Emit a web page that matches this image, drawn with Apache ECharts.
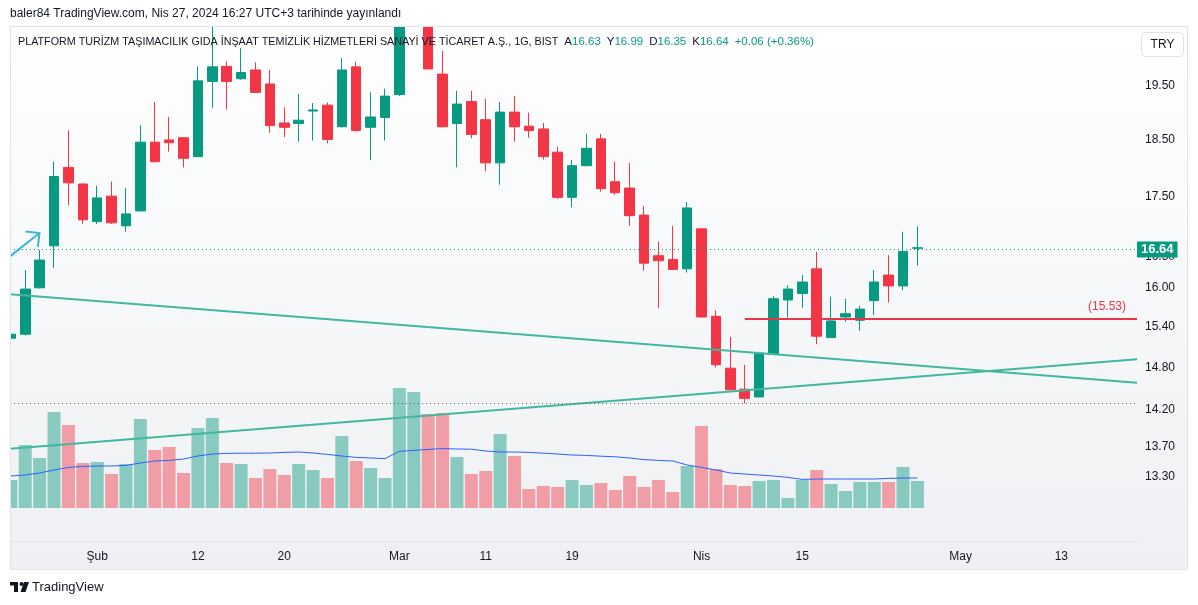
<!DOCTYPE html>
<html><head><meta charset="utf-8">
<script src="https://cdn.jsdelivr.net/npm/echarts@6/dist/echarts.min.js"></script>
<style>html,body{margin:0;padding:0;background:#fff}#c{width:1198px;height:605px}</style>
</head><body><div id="c"></div>
<script>
// ---- data ----
const dates = ['2024-01-24','2024-01-25','2024-01-26','2024-01-29','2024-01-30','2024-01-31',
'2024-02-01','2024-02-02','2024-02-05','2024-02-06','2024-02-07','2024-02-08','2024-02-09',
'2024-02-12','2024-02-13','2024-02-14','2024-02-15','2024-02-16','2024-02-19','2024-02-20',
'2024-02-21','2024-02-22','2024-02-23','2024-02-26','2024-02-27','2024-02-28','2024-02-29',
'2024-03-01','2024-03-04','2024-03-05','2024-03-06','2024-03-07','2024-03-08','2024-03-11',
'2024-03-12','2024-03-13','2024-03-14','2024-03-15','2024-03-18','2024-03-19','2024-03-20',
'2024-03-21','2024-03-22','2024-03-25','2024-03-26','2024-03-27','2024-03-28','2024-03-29',
'2024-04-01','2024-04-02','2024-04-03','2024-04-04','2024-04-05','2024-04-08','2024-04-09',
'2024-04-15','2024-04-16','2024-04-17','2024-04-18','2024-04-19','2024-04-22','2024-04-24',
'2024-04-25','2024-04-26',
'2024-04-29','2024-04-30','2024-05-02','2024-05-03','2024-05-06','2024-05-07','2024-05-08',
'2024-05-09','2024-05-10','2024-05-13','2024-05-14','2024-05-15','2024-05-16','2024-05-17','2024-05-20'];

const openP  = [15.23,15.29,16.00,16.67,18.00,17.71,17.07,17.50,17.00,17.25,18.45,18.49,18.53,18.19,19.58,19.87,19.63,19.80,19.53,18.80,18.79,19.02,19.13,18.73,19.86,18.72,18.90,19.33,21.40,21.40,19.72,18.79,19.20,18.86,18.08,19.00,18.74,18.69,18.27,17.48,18.03,18.51,17.75,17.64,17.18,16.51,16.45,16.30,16.95,15.56,14.79,14.49,14.38,14.99,15.81,15.91,16.30,15.24,15.55,15.50,15.80,16.20,16.03,16.63];
const closeP = [15.29,15.98,16.44,17.84,17.73,17.10,17.47,17.05,17.20,18.45,18.10,18.44,18.16,19.59,19.86,19.58,19.75,19.37,18.75,18.72,18.85,19.04,18.50,19.80,18.66,18.91,19.30,21.22,21.60,19.82,18.73,19.15,18.59,18.08,19.00,18.73,18.66,18.19,17.48,18.03,18.34,17.63,17.56,17.17,16.39,16.43,16.29,17.30,15.55,14.84,14.48,14.36,15.01,15.83,15.98,16.09,15.26,15.49,15.60,15.67,16.09,16.03,16.58,16.64];
const lowP   = [15.16,15.27,15.99,16.32,17.35,17.03,17.03,17.03,16.90,17.24,18.09,18.28,18.00,18.18,19.08,19.05,19.61,19.36,18.62,18.54,18.46,18.48,18.43,18.72,18.64,18.13,18.48,19.30,20.80,19.82,18.72,18.00,18.52,17.93,17.70,18.46,18.53,18.14,17.45,17.31,18.02,17.58,17.52,17.00,16.27,15.69,16.28,16.24,15.54,14.80,14.48,14.29,14.38,14.99,15.54,15.69,15.14,15.24,15.48,15.34,15.58,15.77,15.96,16.35];
const highP  = [15.35,16.28,16.60,18.10,18.66,17.72,17.68,17.75,17.64,18.76,19.19,18.91,18.54,19.87,20.80,19.97,20.23,19.95,19.80,19.09,19.34,19.17,19.18,20.03,19.96,19.37,19.44,21.22,22.40,21.80,20.17,19.40,19.40,19.25,19.19,19.30,18.99,18.80,18.37,18.13,18.60,18.60,18.10,18.08,17.33,16.74,17.00,17.40,16.96,15.65,15.25,14.84,15.03,15.87,16.04,16.20,16.57,15.86,15.83,15.72,16.28,16.52,16.90,16.99];
const volume = [1.40,3.15,2.50,4.80,4.15,2.25,2.30,1.70,2.20,4.45,2.90,3.05,1.75,4.00,4.50,2.25,2.20,1.50,1.95,1.65,2.20,1.90,1.50,3.60,2.35,2.00,1.50,6.00,5.80,4.70,4.75,2.55,1.70,1.85,3.70,2.60,0.95,1.10,1.05,1.40,1.15,1.25,0.90,1.60,1.05,1.40,0.80,2.10,4.10,1.95,1.15,1.10,1.35,1.40,0.50,1.40,1.90,1.20,0.85,1.30,1.30,1.30,2.05,1.35];
const volumeMA = [1.60,1.65,1.75,1.90,2.03,2.08,2.10,2.10,2.13,2.25,2.35,2.38,2.45,2.60,2.70,2.73,2.74,2.74,2.75,2.78,2.80,2.75,2.68,2.60,2.53,2.50,2.47,2.83,2.88,2.93,2.97,2.95,2.94,2.85,2.80,2.80,2.78,2.74,2.70,2.65,2.63,2.59,2.56,2.50,2.42,2.38,2.35,2.15,2.03,1.90,1.75,1.70,1.65,1.60,1.53,1.43,1.45,1.45,1.45,1.45,1.45,1.48,1.50,1.50];

const timeTicks = [['2024-02-01','Şub'],['2024-02-12','12'],['2024-02-20','20'],['2024-03-01','Mar'],
  ['2024-03-11','11'],['2024-03-19','19'],['2024-04-01','Nis'],['2024-04-15','15'],['2024-05-02','May'],['2024-05-13','13']];
const priceTicks = [19.50,18.50,17.50,16.50,16.00,15.40,14.80,14.20,13.70,13.30];

// view range (index units / price units)
const xMin = -0.06, xMax = 78.26;
const yMinPrice = 12.49, yMaxPrice = 20.67;
const volMax = 24.1;

// drawings (index, price)
const trendDown = [[xMin, 15.90], [xMax, 14.58]];
const trendUp   = [[xMin, 13.67], [xMax, 14.92]];
const arrowLine = [[xMin, 16.50], [1.99, 16.88]];
const lastPrice = 16.64;
const levelLine = { from: 51, price: 15.53, label: '(15.53)' };
const lowLine = 14.29;
const header = 'baler84 TradingView.com, Nis 27, 2024 16:27 UTC+3 tarihinde yayınlandı';
const title = 'PLATFORM TURİZM TAŞIMACILIK GIDA İNŞAAT TEMİZLİK HİZMETLERİ SANAYİ VE TİCARET A.Ş., 1G, BIST';
const ohlc = [['A','16.63'],['Y','16.99'],['D','16.35'],['K','16.64']];
const change = '+0.06 (+0.36%)';

// ---- build ----
const UP = '#089981', DOWN = '#f23645';
const FONT = 'Liberation Sans, Arial, sans-serif';
const L = Math.log;
const candleData = openP.map((o, i) => [i, L(o), L(closeP[i]), L(lowP[i]), L(highP[i])]);
const volData = volume.map((v, i) => ({
  value: [i, v],
  itemStyle: { color: closeP[i] >= openP[i] ? 'rgba(8,153,129,0.45)' : 'rgba(242,54,69,0.45)' }
}));
const maData = volumeMA.map((v, i) => [i, v]);
const tickPos = timeTicks.map(t => dates.indexOf(t[0]));
const tickMap = {}; timeTicks.forEach(t => { tickMap[dates.indexOf(t[0])] = t[1]; });
const toLn = arr => arr.map(p => [p[0], L(p[1])]);

let richTitle = '{t|' + title + '}  ';
ohlc.forEach(p => { richTitle += '{l|' + p[0] + '}{v|' + p[1] + '}  '; });
richTitle += '{v|' + change + '}';

const chart = echarts.init(document.getElementById('c'), null, { renderer: 'canvas' });
chart.setOption({
  animation: false,
  backgroundColor: '#ffffff',
  textStyle: { fontFamily: FONT },
  grid: [
    { left: 10, right: 61, top: 26, bottom: 64 },
    { left: 10, right: 61, top: 26, bottom: 97 }
  ],
  xAxis: [
    { type: 'value', gridIndex: 0, min: xMin, max: xMax,
      axisLine: { show: true, lineStyle: { color: '#e0e3eb' } },
      axisTick: { show: false }, splitLine: { show: false },
      axisLabel: { customValues: tickPos, formatter: v => tickMap[Math.round(v)] || '',
        color: '#131722', fontSize: 12, margin: 10, fontFamily: FONT } },
    { type: 'value', gridIndex: 1, min: xMin, max: xMax, show: false }
  ],
  yAxis: [
    { type: 'value', gridIndex: 0, position: 'right', min: L(yMinPrice), max: L(yMaxPrice),
      axisLine: { show: false }, axisTick: { show: false }, splitLine: { show: false },
      axisLabel: { customValues: priceTicks.map(L), formatter: v => Math.exp(v).toFixed(2),
        align: 'left', margin: 8, color: '#131722', fontSize: 12, fontFamily: FONT } },
    { type: 'value', gridIndex: 1, min: 0, max: volMax, show: false }
  ],
  series: [
    { type: 'bar', name: 'Hacim', xAxisIndex: 1, yAxisIndex: 1, data: volData, barWidth: 13, z: 1 },
    { type: 'line', name: 'Hacim MA', xAxisIndex: 1, yAxisIndex: 1, data: maData, symbol: 'none',
      lineStyle: { color: '#2962ff', width: 1 }, z: 1 },
    { type: 'candlestick', name: 'PLTUR', xAxisIndex: 0, yAxisIndex: 0, data: candleData,
      encode: { x: 0, y: [1, 2, 3, 4] }, barWidth: 10, z: 3, clip: true,
      itemStyle: { color: UP, color0: DOWN, borderColor: UP, borderColor0: DOWN, borderWidth: 1 },
      markLine: {
        symbol: 'none', silent: true, animation: false,
        data: [
          { yAxis: L(lastPrice), lineStyle: { color: UP, type: [1, 3], width: 1 },
            label: { show: true, position: 'end', formatter: lastPrice.toFixed(2), color: '#fff',
              backgroundColor: UP, padding: [2, 4, 1, 4], fontSize: 13, fontWeight: 'bold', distance: 0, fontFamily: FONT } },
          { yAxis: L(lowLine), lineStyle: { color: '#5d606b', type: [1, 3], width: 1 }, label: { show: false } },
          [ { coord: [levelLine.from, L(levelLine.price)], lineStyle: { color: '#e8364a', type: 'solid', width: 2 },
              label: { show: true, position: 'insideEndTop', formatter: levelLine.label, color: '#e8364a', fontSize: 12,
                padding: [0, 6, 1, 0], fontFamily: FONT } },
            { coord: [xMax, L(levelLine.price)] } ]
        ]
      } },
    { type: 'line', name: 'trend1', data: toLn(trendDown), symbol: 'none', z: 4,
      lineStyle: { color: '#43b89f', width: 2 } },
    { type: 'line', name: 'trend2', data: toLn(trendUp), symbol: 'none', z: 4,
      lineStyle: { color: '#43b89f', width: 2 } },
    { type: 'custom', name: 'arrow', data: [[arrowLine[0][0], L(arrowLine[0][1]), arrowLine[1][0], L(arrowLine[1][1])]],
      z: 4, clip: true,
      renderItem: (params, api) => {
        const a = api.coord([api.value(0), api.value(1)]);
        const b = api.coord([api.value(2), api.value(3)]);
        const ang = Math.atan2(a[1] - b[1], a[0] - b[0]);
        const len = 14, spread = Math.PI / 4;
        const b1 = [b[0] + len * Math.cos(ang + spread), b[1] + len * Math.sin(ang + spread)];
        const b2 = [b[0] + len * Math.cos(ang - spread), b[1] + len * Math.sin(ang - spread)];
        const st = { stroke: '#3fb4d8', lineWidth: 2, fill: null };
        return { type: 'group', children: [
          { type: 'line', shape: { x1: a[0], y1: a[1], x2: b[0], y2: b[1] }, style: st },
          { type: 'polyline', shape: { points: [b1, b, b2] }, style: st }
        ] };
      } }
  ],
  graphic: [
    { type: 'rect', z: -10, shape: { x: 10, y: 26, width: 1178, height: 544 },
      style: { fill: new echarts.graphic.LinearGradient(0, 0, 0, 1, [{ offset: 0, color: '#ffffff' }, { offset: 1, color: '#eef0f3' }]) } },
    // page margins outside the pane (hide marks that run past the pane edge)
    { type: 'rect', z: 40, shape: { x: 0, y: 0, width: 1198, height: 26 }, style: { fill: '#ffffff' } },
    { type: 'rect', z: 40, shape: { x: 0, y: 26, width: 10, height: 560 }, style: { fill: '#ffffff' } },
    { type: 'rect', z: 50, shape: { x: 10.5, y: 26.5, width: 1177, height: 543 }, style: { fill: null, stroke: '#e0e3eb', lineWidth: 1 } },
    { type: 'text', z: 50, x: 10, y: 14, style: { text: header, fill: '#131722', font: '12px ' + FONT, textVerticalAlign: 'middle' } },
    { type: 'text', z: 50, x: 18, y: 42, style: { text: richTitle, fill: '#131722', font: '10.75px ' + FONT, textVerticalAlign: 'middle',
        rich: { t: { fill: '#131722', font: '10.75px ' + FONT }, l: { fill: '#131722', font: '11.5px ' + FONT }, v: { fill: UP, font: '11.5px ' + FONT } } } },
    { type: 'rect', z: 50, shape: { x: 1141.5, y: 32.5, width: 42, height: 24, r: 4 }, style: { fill: '#ffffff', stroke: '#e0e3eb', lineWidth: 1 } },
    { type: 'text', z: 51, x: 1162.5, y: 44.5, style: { text: 'TRY', fill: '#131722', font: '12px ' + FONT, textAlign: 'center', textVerticalAlign: 'middle' } },
    { type: 'rect', z: 50, shape: { x: 10, y: 582, width: 8, height: 3.5 }, style: { fill: '#131722' } },
    { type: 'rect', z: 50, shape: { x: 14, y: 582, width: 4, height: 10 }, style: { fill: '#131722' } },
    { type: 'circle', z: 50, shape: { cx: 21.5, cy: 584, r: 2 }, style: { fill: '#131722' } },
    { type: 'polygon', z: 50, shape: { points: [[24, 582], [29, 582], [25.5, 592], [20.5, 592]] }, style: { fill: '#131722' } },
    { type: 'text', z: 50, x: 32, y: 587, style: { text: 'TradingView', fill: '#131722', font: '13px ' + FONT, textVerticalAlign: 'middle' } }
  ]
});
</script></body></html>
